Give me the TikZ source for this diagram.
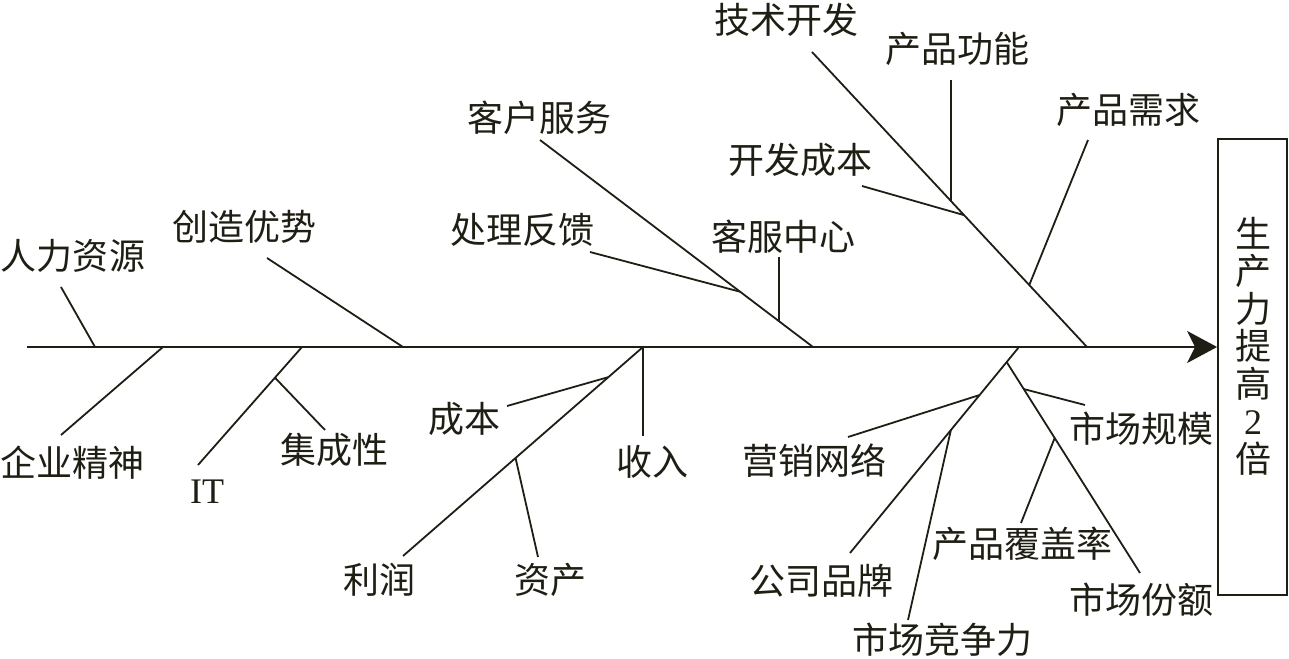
\documentclass[tikz,border=0pt]{standalone}
\usepackage{fontspec}
\setmainfont{Liberation Serif}
\newfontfamily\cjk{Noto Sans CJK SC}
\usetikzlibrary{arrows.meta,calc}
\definecolor{ink}{RGB}{30,30,20}
\begin{document}
\begin{tikzpicture}[x=1pt,y=-1pt,
  lab/.style={inner sep=0pt, text=ink, font=\cjk\fontsize{36}{37.5}\selectfont},
  latin/.style={inner sep=0pt, text=ink, font=\rmfamily\fontsize{36}{37.5}\selectfont},
  bone/.style={line width=1.8pt, draw=ink},
  goalbox/.style={draw=ink, line width=1.8pt, minimum width=69pt, minimum height=456pt, inner sep=0pt},
  spinearrow/.style={bone, -{Stealth[length=30pt, width=32pt, inset=8pt]}}]
\useasboundingbox (0,0) rectangle (1289,658);

% goal box
\node[goalbox] (goal) at (1252.5,367) {};
\node[lab, align=center] (goaltext) at (1253,346) {生\\产\\力\\提\\高\\{\rmfamily 2}\\倍};

% spine
\coordinate (start) at (27,347);
\draw[spinearrow] (start) -- (start -| goal.west);

% labels
\node[lab] (hr)   at (73,256)   {人力资源};
\node[lab] (qy)   at (72,463)   {企业精神};
\node[latin] (it) at (207,492)  {IT};
\node[lab] (jc)   at (334,450)  {集成性};
\node[lab] (cz)   at (244,227)  {创造优势};
\node[lab] (cb)   at (464,419)  {成本};
\node[lab] (sr)   at (652,462)  {收入};
\node[lab] (lr)   at (379,580)  {利润};
\node[lab] (zc)   at (550,580)  {资产};
\node[lab] (kf)   at (539,118)  {客户服务};
\node[lab] (cl)   at (522,230)  {处理反馈};
\node[lab] (kz)   at (783,237)  {客服中心};
\node[lab] (js)   at (786,20)   {技术开发};
\node[lab] (gn)   at (957,49)   {产品功能};
\node[lab] (xq)   at (1128,110) {产品需求};
\node[lab] (kb)   at (800,160)  {开发成本};
\node[lab] (yx)   at (814,461)  {营销网络};
\node[lab] (pp)   at (821,581)  {公司品牌};
\node[lab] (jz)   at (942,640)  {市场竞争力};
\node[lab] (fg)   at (1022,544) {产品覆盖率};
\node[lab] (gm)   at (1141,429) {市场规模};
\node[lab] (fe)   at (1141,600) {市场份额};

% spine junctions
\coordinate (s1) at (95,347);
\coordinate (s2) at (163,347);
\coordinate (s3) at (302,347);
\coordinate (s4) at (403,347);
\coordinate (s5) at (643,347);
\coordinate (s6) at (813,347);
\coordinate (s7) at (1087,347);
\coordinate (s8) at (1019,347);

% bone free ends
\coordinate (e1) at (61,287);
\coordinate (e2) at (61,435);
\coordinate (e3) at (198,465);
\coordinate (e4) at (267,258);
\coordinate (e5) at (403,556);
\coordinate (e6) at (540,140);
\coordinate (e7) at (812,52);
\coordinate (e8) at (850,553);

% main bones
\draw[bone] (e1) -- (s1);
\draw[bone] (s2) -- (e2);
\draw[bone] (s3) -- (e3);
\draw[bone] (e4) -- (s4);
\draw[bone] (s5) -- (e5);
\draw[bone] (e6) -- (s6);
\draw[bone] (e7) -- (s7);
\draw[bone] (s8) -- (e8);

% IT branch
\coordinate (a1) at ($(s3)!0.26!(e3)$);
\coordinate (f1) at (325,430);
\draw[bone] (a1) -- (f1);

% finance branch
\coordinate (a2) at ($(s5)!0.144!(e5)$);
\coordinate (f2) at (507,406);
\draw[bone] (f2) -- (a2);
\coordinate (a3) at ($(s5)!0.531!(e5)$);
\coordinate (f3) at (538,557);
\draw[bone] (a3) -- (f3);
\coordinate (f4) at (s5 |- 0,436);
\draw[bone] (s5) -- (f4);

% customer service branch
\coordinate (a5) at ($(e6)!0.733!(s6)$);
\coordinate (f5) at (590,252);
\draw[bone] (f5) -- (a5);
\coordinate (a6) at ($(e6)!0.875!(s6)$);
\coordinate (f6) at (a6 |- 0,257);
\draw[bone] (f6) -- (a6);

% technology branch
\coordinate (a7) at ($(e7)!0.505!(s7)$);
\coordinate (f7) at (a7 |- 0,80);
\draw[bone] (f7) -- (a7);
\coordinate (a8) at ($(e7)!0.553!(s7)$);
\coordinate (f8) at (862,186);
\draw[bone] (f8) -- (a8);
\coordinate (a9) at ($(e7)!0.79!(s7)$);
\coordinate (f9) at (1088,140);
\draw[bone] (f9) -- (a9);

% market branch
\coordinate (j1) at ($(s8)!0.073!(e8)$);
\coordinate (m1) at (1140,573);
\draw[bone] (j1) -- (m1);
\coordinate (a10) at ($(s8)!0.233!(e8)$);
\coordinate (f10) at (848,437);
\draw[bone] (f10) -- (a10);
\coordinate (a11) at ($(s8)!0.403!(e8)$);
\coordinate (f11) at (908,620);
\draw[bone] (a11) -- (f11);
\coordinate (a12) at ($(j1)!0.128!(m1)$);
\coordinate (f12) at (1085,405);
\draw[bone] (a12) -- (f12);
\coordinate (a13) at ($(j1)!0.36!(m1)$);
\coordinate (f13) at (1021,523);
\draw[bone] (a13) -- (f13);
\end{tikzpicture}
\end{document}
